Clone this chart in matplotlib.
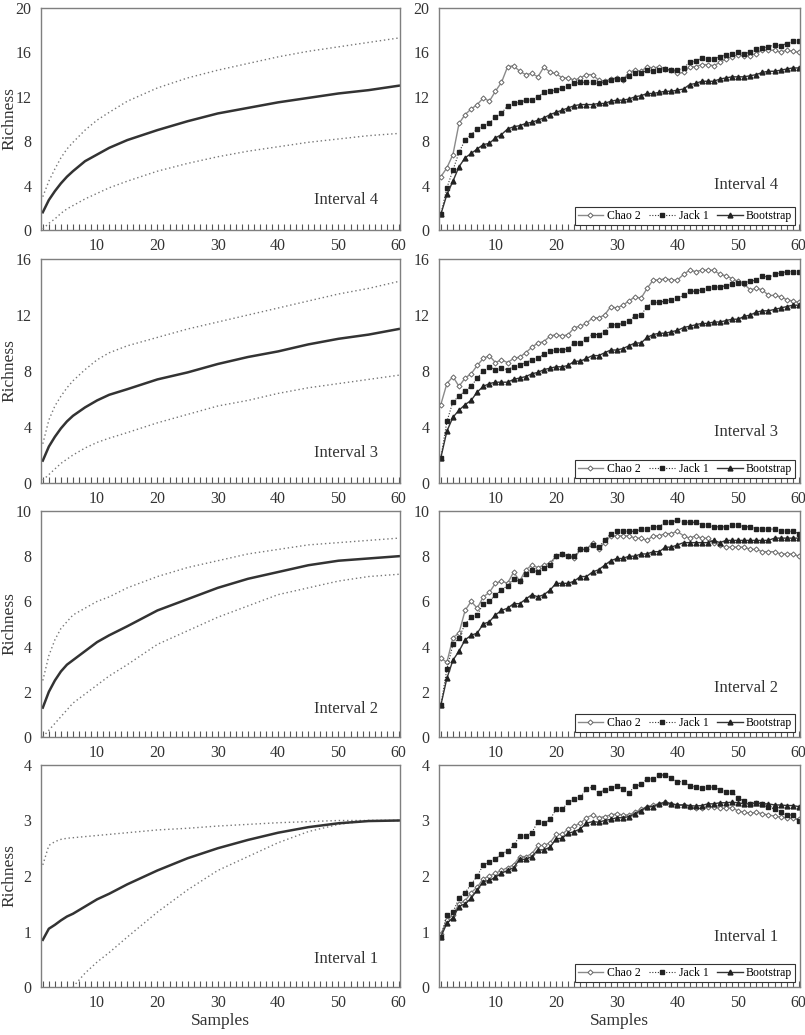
import matplotlib.pyplot as plt
from matplotlib.ticker import MultipleLocator

plt.rcParams['font.family'] = ['Liberation Serif', 'DejaVu Serif']

samples = list(range(1, 61))

# left column: rarefaction mean with upper / lower 95% bounds
rare_x = [1, 2, 3, 4, 5, 6, 8, 10, 12, 15, 20, 25, 30, 35, 40, 45, 50, 55, 60]

i4_mean = [1.6, 2.7, 3.5, 4.2, 4.8, 5.3, 6.2, 6.8, 7.4, 8.1, 9.0, 9.8, 10.5, 11.0, 11.5, 11.9, 12.3, 12.6, 13.0]
i4_upper = [3.0, 4.4, 5.5, 6.5, 7.3, 7.9, 9.0, 9.9, 10.6, 11.6, 12.8, 13.7, 14.4, 15.0, 15.6, 16.1, 16.5, 16.9, 17.3]
i4_lower = [0.1, 0.6, 1.0, 1.5, 1.9, 2.2, 2.8, 3.3, 3.8, 4.4, 5.3, 6.0, 6.6, 7.1, 7.5, 7.9, 8.2, 8.5, 8.7]

i3_mean = [1.6, 2.6, 3.3, 3.9, 4.4, 4.8, 5.4, 5.9, 6.3, 6.7, 7.4, 7.9, 8.5, 9.0, 9.4, 9.9, 10.3, 10.6, 11.0]
i3_upper = [2.8, 4.5, 5.5, 6.2, 6.8, 7.3, 8.1, 8.8, 9.3, 9.8, 10.4, 11.0, 11.5, 12.0, 12.5, 13.0, 13.5, 13.9, 14.4]
i3_lower = [0.2, 0.6, 1.0, 1.4, 1.7, 2.0, 2.5, 2.9, 3.2, 3.6, 4.3, 4.9, 5.5, 5.9, 6.4, 6.8, 7.1, 7.4, 7.7]

i2_mean = [1.3, 2.0, 2.5, 2.9, 3.2, 3.4, 3.8, 4.2, 4.5, 4.9, 5.6, 6.1, 6.6, 7.0, 7.3, 7.6, 7.8, 7.9, 8.0]
i2_upper = [2.5, 3.6, 4.3, 4.8, 5.1, 5.4, 5.7, 6.0, 6.2, 6.6, 7.1, 7.5, 7.8, 8.1, 8.3, 8.5, 8.6, 8.7, 8.8]
i2_lower = [0.0, 0.3, 0.6, 0.9, 1.2, 1.5, 1.9, 2.3, 2.7, 3.2, 4.1, 4.7, 5.3, 5.8, 6.3, 6.6, 6.9, 7.1, 7.2]

i1_mean = [0.85, 1.05, 1.12, 1.2, 1.27, 1.32, 1.45, 1.58, 1.68, 1.85, 2.1, 2.32, 2.5, 2.65, 2.78, 2.88, 2.95, 2.99, 3.0]
i1_upper = [2.2, 2.55, 2.62, 2.66, 2.68, 2.69, 2.71, 2.73, 2.75, 2.78, 2.83, 2.86, 2.9, 2.93, 2.96, 2.98, 3.0, 3.0, 3.0]
i1_lower_x = [6, 8, 10, 12, 15, 20, 25, 30, 35, 40, 45, 50, 55, 60]
i1_lower = [0.0, 0.25, 0.45, 0.62, 0.9, 1.35, 1.75, 2.1, 2.35, 2.6, 2.8, 2.93, 3.0, 3.0]

# right column: estimators per sample
i4_chao = [4.8, 5.6, 6.8, 9.6, 10.4, 10.9, 11.3, 11.9, 11.6, 12.5, 13.3, 14.7, 14.8, 14.3, 14.0,
           14.1, 13.8, 14.7, 14.2, 14.1, 13.7, 13.7, 13.5, 13.7, 14.0, 14.0, 13.5, 13.4, 13.6, 13.7,
           13.5, 14.2, 14.4, 14.3, 14.7, 14.6, 14.7, 14.5, 14.4, 14.1, 14.2, 14.7, 14.7, 14.9, 14.9,
           14.8, 15.1, 15.4, 15.6, 15.8, 15.7, 15.7, 15.9, 16.2, 16.2, 16.2, 16.0, 16.2, 16.1, 16.0]
i4_jack = [1.4, 3.8, 5.4, 7.0, 8.1, 8.6, 9.1, 9.4, 9.6, 10.2, 10.5, 11.2, 11.4, 11.5, 11.7,
           11.7, 12.0, 12.4, 12.5, 12.6, 12.8, 13.0, 13.2, 13.3, 13.3, 13.3, 13.2, 13.3, 13.5, 13.6,
           13.6, 13.9, 14.1, 14.1, 14.4, 14.3, 14.4, 14.5, 14.4, 14.4, 14.6, 15.1, 15.2, 15.5, 15.4,
           15.4, 15.6, 15.8, 15.9, 16.0, 15.9, 16.0, 16.3, 16.4, 16.5, 16.7, 16.6, 16.8, 17.0, 17.0]
i4_boot = [1.4, 3.2, 4.4, 5.7, 6.5, 6.9, 7.3, 7.7, 7.8, 8.3, 8.6, 9.1, 9.3, 9.4, 9.6,
           9.7, 9.9, 10.1, 10.4, 10.6, 10.8, 11.0, 11.2, 11.3, 11.3, 11.3, 11.4, 11.4, 11.6, 11.7,
           11.7, 11.8, 12.0, 12.1, 12.3, 12.3, 12.4, 12.5, 12.5, 12.6, 12.7, 13.1, 13.2, 13.4, 13.4,
           13.4, 13.6, 13.7, 13.8, 13.8, 13.8, 13.9, 14.0, 14.2, 14.3, 14.3, 14.4, 14.5, 14.6, 14.6]

i3_chao = [5.6, 7.1, 7.6, 6.9, 7.5, 7.8, 8.4, 8.9, 9.1, 8.6, 8.8, 8.6, 8.9, 9.0, 9.3,
           9.7, 10.0, 10.1, 10.5, 10.6, 10.5, 10.6, 11.1, 11.2, 11.4, 11.8, 11.8, 12.0, 12.6, 12.5,
           12.7, 13.0, 13.3, 13.2, 13.9, 14.5, 14.5, 14.6, 14.5, 14.5, 14.9, 15.2, 15.1, 15.2, 15.2,
           15.2, 14.9, 14.8, 14.6, 14.4, 14.2, 13.8, 13.9, 13.8, 13.4, 13.4, 13.3, 13.1, 13.0, 12.9]
i3_jack = [1.8, 4.4, 5.8, 6.2, 6.6, 6.9, 7.5, 8.0, 8.3, 8.1, 8.2, 8.1, 8.3, 8.4, 8.6,
           8.8, 8.9, 9.2, 9.4, 9.5, 9.5, 9.6, 10.0, 10.0, 10.3, 10.6, 10.6, 10.8, 11.3, 11.3,
           11.4, 11.6, 11.9, 12.0, 12.6, 12.9, 12.9, 13.0, 13.1, 13.2, 13.4, 13.7, 13.7, 13.8, 13.9,
           14.0, 14.0, 14.1, 14.2, 14.3, 14.3, 14.4, 14.5, 14.8, 14.7, 14.9, 15.0, 15.1, 15.1, 15.1]
i3_boot = [1.8, 3.7, 4.7, 5.2, 5.6, 5.9, 6.5, 6.9, 7.1, 7.2, 7.2, 7.2, 7.4, 7.5, 7.6,
           7.8, 7.9, 8.1, 8.2, 8.3, 8.3, 8.4, 8.7, 8.7, 8.9, 9.1, 9.1, 9.3, 9.5, 9.5,
           9.6, 9.8, 10.0, 10.0, 10.4, 10.6, 10.7, 10.7, 10.8, 10.9, 11.1, 11.2, 11.3, 11.4, 11.4,
           11.5, 11.5, 11.6, 11.7, 11.7, 11.9, 12.0, 12.2, 12.3, 12.3, 12.4, 12.5, 12.6, 12.7, 12.7]

i2_chao = [3.5, 3.3, 4.4, 4.6, 5.6, 6.0, 5.7, 6.2, 6.4, 6.8, 6.9, 6.8, 7.3, 6.9, 7.4,
           7.6, 7.5, 7.6, 7.7, 8.0, 8.1, 8.0, 7.9, 8.3, 8.3, 8.6, 8.3, 8.6, 8.9, 8.9,
           8.9, 8.9, 8.8, 8.8, 8.7, 8.9, 8.9, 9.0, 9.0, 9.1, 8.9, 8.8, 8.9, 8.8, 8.8,
           8.6, 8.5, 8.4, 8.4, 8.4, 8.4, 8.3, 8.3, 8.2, 8.2, 8.2, 8.1, 8.1, 8.1, 8.0]
i2_jack = [1.4, 3.0, 4.1, 4.4, 5.0, 5.3, 5.4, 5.9, 6.0, 6.3, 6.5, 6.7, 7.0, 6.9, 7.2,
           7.4, 7.3, 7.5, 7.6, 8.0, 8.1, 8.0, 8.0, 8.3, 8.3, 8.5, 8.4, 8.7, 9.0, 9.1,
           9.1, 9.1, 9.1, 9.2, 9.2, 9.3, 9.3, 9.5, 9.5, 9.6, 9.5, 9.5, 9.5, 9.4, 9.4,
           9.3, 9.3, 9.3, 9.4, 9.4, 9.3, 9.3, 9.2, 9.2, 9.2, 9.2, 9.1, 9.1, 9.1, 9.0]
i2_boot = [1.4, 2.6, 3.4, 3.8, 4.3, 4.5, 4.6, 5.0, 5.1, 5.4, 5.6, 5.7, 5.9, 5.9, 6.1,
           6.3, 6.2, 6.3, 6.5, 6.8, 6.8, 6.8, 6.9, 7.1, 7.1, 7.3, 7.4, 7.6, 7.8, 7.9,
           7.9, 8.0, 8.0, 8.1, 8.1, 8.2, 8.2, 8.4, 8.4, 8.5, 8.6, 8.6, 8.6, 8.6, 8.6,
           8.7, 8.6, 8.7, 8.7, 8.7, 8.7, 8.7, 8.7, 8.7, 8.7, 8.8, 8.8, 8.8, 8.8, 8.8]

i1_chao = [0.95, 1.2, 1.3, 1.5, 1.55, 1.7, 1.8, 1.95, 2.0, 2.05, 2.1, 2.15, 2.2, 2.35, 2.35,
           2.4, 2.55, 2.55, 2.6, 2.75, 2.75, 2.85, 2.9, 2.95, 3.05, 3.1, 3.05, 3.07, 3.1, 3.12,
           3.1, 3.1, 3.15, 3.2, 3.25, 3.28, 3.3, 3.33, 3.3, 3.28, 3.28, 3.25, 3.22, 3.22, 3.25,
           3.24, 3.22, 3.22, 3.23, 3.17, 3.15, 3.13, 3.15, 3.12, 3.1, 3.08, 3.06, 3.05, 3.04, 3.02]
i1_jack = [0.9, 1.3, 1.35, 1.6, 1.7, 1.85, 2.0, 2.2, 2.25, 2.3, 2.4, 2.45, 2.55, 2.72, 2.72,
           2.78, 2.98, 2.95, 3.02, 3.2, 3.2, 3.33, 3.38, 3.42, 3.57, 3.6, 3.5, 3.55, 3.58, 3.62,
           3.57, 3.5, 3.62, 3.65, 3.75, 3.75, 3.82, 3.82, 3.76, 3.7, 3.7, 3.63, 3.6, 3.58, 3.6,
           3.6, 3.55, 3.52, 3.52, 3.4, 3.35, 3.3, 3.32, 3.3, 3.25, 3.2, 3.15, 3.1, 3.1, 3.0]
i1_boot = [0.9, 1.15, 1.25, 1.45, 1.5, 1.6, 1.75, 1.9, 1.92, 1.98, 2.05, 2.1, 2.15, 2.3, 2.3,
           2.35, 2.47, 2.47, 2.52, 2.67, 2.68, 2.77, 2.8, 2.85, 2.95, 2.98, 2.97, 3.0, 3.02, 3.05,
           3.05, 3.07, 3.12, 3.18, 3.25, 3.25, 3.3, 3.33, 3.3, 3.28, 3.28, 3.27, 3.26, 3.27, 3.3,
           3.3, 3.32, 3.32, 3.33, 3.32, 3.3, 3.3, 3.32, 3.3, 3.3, 3.28, 3.28, 3.27, 3.27, 3.25]

labels = ['Interval 4', 'Interval 3', 'Interval 2', 'Interval 1']
y_max = [20, 16, 10, 4]
y_step = [4, 4, 2, 1]

left_data = [
    (rare_x, i4_mean, rare_x, i4_upper, rare_x, i4_lower),
    (rare_x, i3_mean, rare_x, i3_upper, rare_x, i3_lower),
    (rare_x, i2_mean, rare_x, i2_upper, rare_x, i2_lower),
    (rare_x, i1_mean, rare_x, i1_upper, i1_lower_x, i1_lower),
]
right_data = [
    (i4_chao, i4_jack, i4_boot),
    (i3_chao, i3_jack, i3_boot),
    (i2_chao, i2_jack, i2_boot),
    (i1_chao, i1_jack, i1_boot),
]

# axes placement in pixels (top, bottom)
rows_px = [(8, 230), (259, 483), (511, 737), (765, 987)]
left_lbl_y = [0.10, 0.10, 0.09, 0.09]
right_lbl_y = [0.165, 0.19, 0.18, 0.19]

W, H = 805, 1035
fig = plt.figure(figsize=(W / 100, H / 100), dpi=100)

spine_col = '#7f7f7f'
txt_col = '#333333'


def style_axes(ax, r):
    ax.set_xlim(0.7, 60.2)
    ax.set_ylim(0, y_max[r])
    ax.xaxis.set_minor_locator(MultipleLocator(1))
    ax.yaxis.set_major_locator(MultipleLocator(y_step[r]))
    ax.set_xticks(range(10, 61, 10))
    ax.tick_params(axis='x', which='both', direction='in', length=4, width=0.8,
                   color='#555555', labelsize=11.5, pad=6, labelcolor=txt_col)
    ax.tick_params(axis='y', length=0, labelsize=11.5, pad=7, labelcolor=txt_col)
    for s in ax.spines.values():
        s.set_color(spine_col)
        s.set_linewidth(1.0)


for r in range(4):
    top, bot = rows_px[r]
    y0 = 1 - bot / H
    h = (bot - top) / H

    # left panel
    ax = fig.add_axes([41 / W, y0, 359 / W, h])
    mx, mean, ux, upper, lx, lower = left_data[r]
    ax.plot(ux, upper, color='#777777', linestyle=(0, (1, 2)), linewidth=1.0)
    ax.plot(lx, lower, color='#777777', linestyle=(0, (1, 2)), linewidth=1.0)
    ax.plot(mx, mean, color='#333333', linewidth=1.8)
    style_axes(ax, r)
    ax.set_ylabel('Richness', fontsize=12.5, color=txt_col)
    ax.yaxis.set_label_coords(-0.066, 0.5)
    ax.text(0.85, left_lbl_y[r], labels[r], transform=ax.transAxes,
            ha='center', va='bottom', fontsize=12, color=txt_col)
    if r == 3:
        ax.set_xlabel('Samples', fontsize=12.5, color=txt_col, labelpad=1)

    # right panel
    ax = fig.add_axes([439 / W, y0, 361 / W, h])
    chao, jack, boot = right_data[r]
    ax.plot(samples, chao, color='#8a8a8a', linewidth=1.0, marker='D', markersize=2.6,
            markerfacecolor='white', markeredgecolor='#666666', markeredgewidth=0.7,
            label='Chao 2')
    ax.plot(samples, jack, color='#333333', linewidth=0.8, linestyle=(0, (1, 1.5)),
            marker='s', markersize=3.5, markerfacecolor='#222222', markeredgecolor='#222222',
            label='Jack 1')
    ax.plot(samples, boot, color='#333333', linewidth=1.0, marker='^', markersize=3.5,
            markerfacecolor='#222222', markeredgecolor='#222222', label='Bootstrap')
    style_axes(ax, r)
    ax.text(0.85, right_lbl_y[r], labels[r], transform=ax.transAxes,
            ha='center', va='bottom', fontsize=12, color=txt_col)
    leg = ax.legend(loc='lower right', ncol=3, fontsize=8.5, frameon=True, fancybox=False,
                    edgecolor='#333333', framealpha=1, handlelength=2.2, handletextpad=0.3,
                    columnspacing=0.7, borderpad=0.25, borderaxespad=0.4)
    leg.get_frame().set_linewidth(0.8)
    if r == 3:
        ax.set_xlabel('Samples', fontsize=12.5, color=txt_col, labelpad=1)

fig.savefig('out.png', dpi=100)
